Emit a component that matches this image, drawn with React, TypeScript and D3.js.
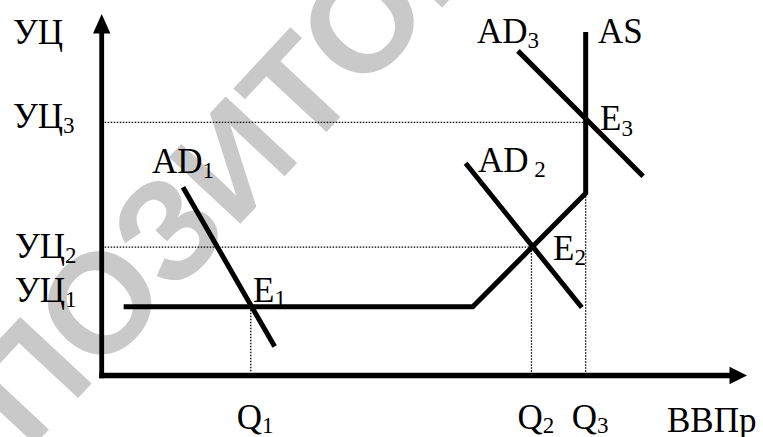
import React from "react";
import * as d3 from "d3";

// ---- data (abstract units: output Q on x 0..100, price level on y 0..100) ----
const outputLevels = [23.1, 66.6, 75.0]; // Q1, Q2, Q3
const priceLevels = [19, 35.5, 70]; // УЦ1, УЦ2, УЦ3
const asCurve: [number, number][] = [
  [3.4, 19],
  [57.5, 19],
  [75, 50.4],
  [75, 95],
];
const ad1: [number, number][] = [
  [12.6, 52.1],
  [26.8, 8.0],
];
const ad2: [number, number][] = [
  [56.4, 58.7],
  [74.4, 18.8],
];
const ad3: [number, number][] = [
  [64.5, 89.8],
  [83.9, 55.1],
];
const qLabels = ["Q", "Q", "Q"];
const qSubs = ["1", "2", "3"];
const watermark = "РЕПОЗИТОРИЙ";

const W = 763;
const H = 437;
const serif = "'Liberation Serif', 'Times New Roman', serif";

export default function App() {
  const x = d3.scaleLinear().domain([0, 100]).range([101.7, 747]);
  const y = d3.scaleLinear().domain([0, 100]).range([375.5, 14]);
  const line = d3
    .line<[number, number]>()
    .x((d) => x(d[0]))
    .y((d) => y(d[1]));

  const fs = 35;
  const sfs = 23;

  const Lbl = ({
    px,
    py,
    main,
    sub,
    dy = 5,
  }: {
    px: number;
    py: number;
    main: string;
    sub?: string;
    dy?: number;
  }) => (
    <text x={px} y={py} fontFamily={serif} fontSize={fs} fill="#000">
      {main}
      {sub ? (
        <tspan fontSize={sfs} dy={dy}>
          {sub}
        </tspan>
      ) : null}
    </text>
  );

  const dotted = {
    stroke: "#000",
    strokeWidth: 1.3,
    strokeDasharray: "1.5 1.5",
    fill: "none",
  };
  const thick = {
    stroke: "#000",
    strokeWidth: 5,
    fill: "none",
    strokeLinecap: "butt" as const,
    strokeLinejoin: "miter" as const,
  };

  const x0 = x(0);
  const y0 = y(0);

  return (
    <svg
      width={W}
      height={H}
      style={{ position: "absolute", left: 0, top: 0, background: "#fff" }}
    >
      <rect width={W} height={H} fill="#fff" />
      {/* watermark */}
      <text
        transform="translate(232,158) rotate(-47)"
        textAnchor="middle"
        dy="0.36em"
        fontFamily="Liberation Sans"
        fontWeight={700}
        fontSize={142}
        fill="#c9c9c9"
      >
        {watermark}
      </text>

      {/* dotted guides */}
      <line x1={x0 + 3} y1={y(priceLevels[2])} x2={x(outputLevels[2])} y2={y(priceLevels[2])} {...dotted} />
      <line x1={x0 + 3} y1={y(priceLevels[1])} x2={x(outputLevels[1])} y2={y(priceLevels[1])} {...dotted} />
      <line x1={x(outputLevels[0])} y1={y(priceLevels[0])} x2={x(outputLevels[0])} y2={y0 - 3} {...dotted} />
      <line x1={x(outputLevels[1])} y1={y(priceLevels[1])} x2={x(outputLevels[1])} y2={y0 - 3} {...dotted} />
      <line x1={x(outputLevels[2])} y1={y(asCurve[2][1])} x2={x(outputLevels[2])} y2={y0 - 3} {...dotted} />

      {/* axes */}
      <line x1={x0} y1={y0 + 2.8} x2={x0} y2={y(100) + 17} stroke="#000" strokeWidth={4.8} />
      <line x1={x0 - 2.4} y1={y0} x2={x(100) - 15} y2={y0} stroke="#000" strokeWidth={5.4} />
      <path
        d={`M${x0},${y(100)} L${x0 + 8.7},${y(100) + 19.5} L${x0 - 8.7},${y(100) + 19.5} Z`}
        fill="#000"
      />
      <path
        d={`M${x(100)},${y0} L${x(100) - 17.5},${y0 - 8.8} L${x(100) - 17.5},${y0 + 8.8} Z`}
        fill="#000"
      />

      {/* curves */}
      <path d={line(asCurve) || ""} {...thick} />
      <path d={line(ad1) || ""} {...thick} />
      <path d={line(ad2) || ""} {...thick} />
      <path d={line(ad3) || ""} {...thick} />

      {/* labels */}
      <Lbl px={13} py={44} main="УЦ" />
      <Lbl px={13} py={128} main="УЦ" sub="3" />
      <Lbl px={15} py={258} main="УЦ" sub="2" />
      <Lbl px={15} py={302} main="УЦ" sub="1" />

      <Lbl px={152} py={173} main="AD" sub="1" />
      <Lbl px={478} py={172} main="AD" sub=" 2" />
      <Lbl px={477} py={43} main="AD" sub="3" />
      <Lbl px={598} py={43} main="AS" />

      <Lbl px={253} py={302} main="E" sub="1" dy={4} />
      <Lbl px={553} py={260} main="E" sub="2" />
      <Lbl px={600} py={130} main="E" sub="3" dy={6} />

      {outputLevels.map((q, i) => (
        <Lbl
          key={i}
          px={x(q) - 14}
          py={429}
          main={qLabels[i]}
          sub={qSubs[i]}
          dy={4}
        />
      ))}
      <Lbl px={667} py={432} main="ВВПр" />
    </svg>
  );
}
